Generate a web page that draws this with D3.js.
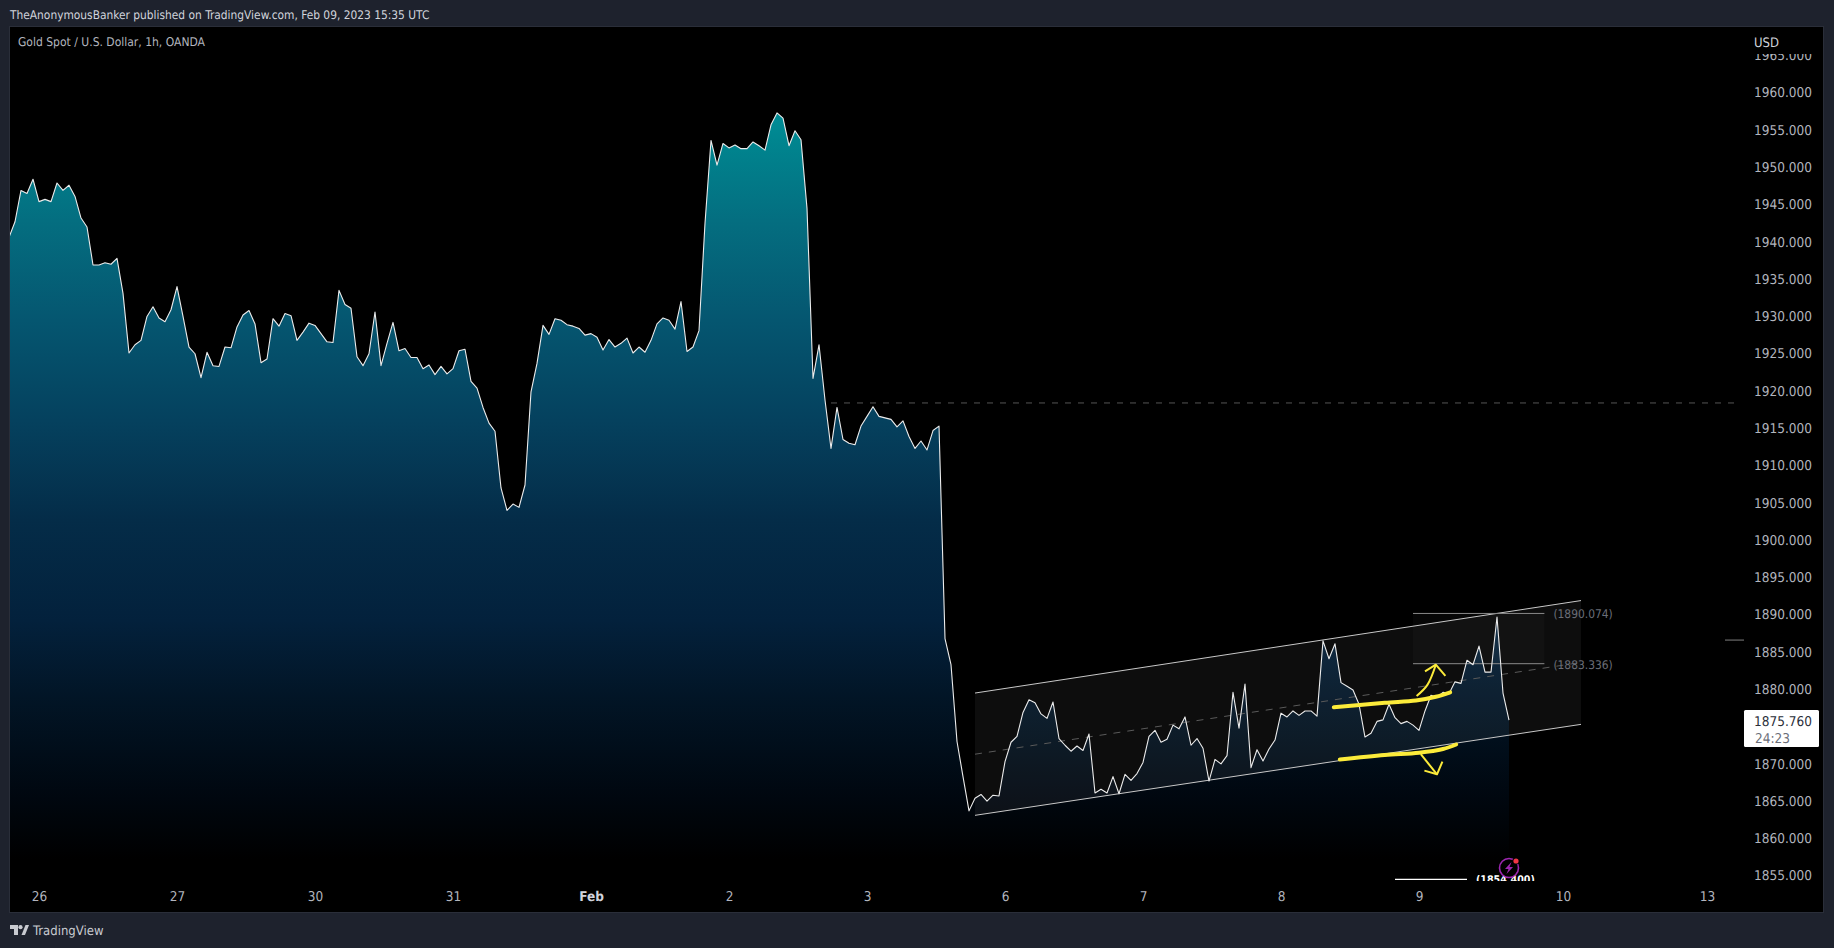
<!DOCTYPE html>
<html><head><meta charset="utf-8">
<script src="https://cdnjs.cloudflare.com/ajax/libs/d3/7.8.5/d3.min.js"></script>
<style>
html,body{margin:0;padding:0;background:#1e222d;overflow:hidden}
svg{display:block}
text{font-family:"DejaVu Sans Condensed","Noto Sans",sans-serif;text-rendering:geometricPrecision}
</style></head><body><svg id="c" width="1834" height="948"></svg>
<script>
const closePrices=[1940.5,1942.6,1946.8,1946.4,1948.3,1945.3,1945.6,1945.3,1947.8,1946.8,1947.5,1946.0,1943.1,1941.9,1936.8,1936.8,1937.1,1936.9,1937.7,1933.0,
1925.0,1926.1,1926.7,1929.9,1931.2,1929.7,1929.2,1930.8,1933.9,1929.9,1925.8,1924.9,1921.7,1925.1,1923.3,1923.2,1925.8,1925.7,1928.5,1930.1,
1930.7,1928.9,1923.7,1924.2,1929.6,1928.6,1930.3,1930.0,1926.7,1927.8,1929.0,1928.7,1927.6,1926.5,1926.4,1933.4,1931.5,1931.0,1924.5,1923.3,
1924.9,1930.5,1923.3,1926.3,1929.1,1925.3,1925.6,1924.4,1924.4,1922.9,1923.4,1922.1,1923.2,1922.2,1922.9,1925.3,1925.5,1921.2,1920.3,1917.7,
1915.6,1914.5,1906.9,1903.9,1904.75,1904.3,1907.3,1919.8,1923.6,1928.7,1927.5,1929.6,1929.4,1928.8,1928.6,1928.3,1927.4,1927.6,1927.1,1925.4,
1926.8,1925.8,1926.3,1927.0,1925.0,1925.8,1925.1,1926.7,1928.9,1929.7,1929.4,1928.2,1931.9,1925.2,1925.8,1928.0,1942.4,1953.5,1950.2,1953.1,
1952.5,1952.9,1952.4,1952.4,1953.3,1952.8,1952.2,1955.6,1957.2,1956.5,1952.8,1954.8,1953.6,1944.4,1921.6,1926.1,1918.7,1912.2,1917.7,1913.4,
1912.9,1912.7,1915.2,1916.5,1917.8,1916.5,1916.3,1916.1,1915.1,1915.9,1913.8,1912.2,1913.2,1912.0,1914.6,1915.2,1886.7,1883.2,1872.9,1868.2,
1863.6,1865.3,1865.8,1864.9,1865.7,1865.6,1870.2,1872.8,1873.6,1876.8,1878.5,1878.1,1876.6,1876.0,1878.2,1873.3,1872.4,1871.6,1872.3,1871.7,
1873.9,1866.0,1866.5,1866.0,1868.2,1865.9,1868.5,1867.7,1868.6,1870.1,1873.6,1874.4,1872.8,1873.2,1875.1,1874.6,1876.2,1872.4,1873.3,1872.0,
1867.6,1870.5,1869.9,1871.0,1879.5,1874.7,1880.6,1869.4,1871.8,1870.3,1871.9,1873.1,1876.7,1876.2,1877.0,1876.4,1877.0,1877.0,1876.3,1886.4,
1884.0,1886.0,1880.8,1880.3,1879.8,1877.9,1873.5,1874.0,1875.6,1875.8,1877.9,1876.1,1875.3,1875.6,1875.1,1874.4,1877.0,1879.1,1878.8,1879.5,
1879.3,1880.9,1880.7,1883.8,1883.2,1885.7,1882.2,1882.2,1889.6,1879.4,1875.76];
const timeTickBars=[5,28,51,74,97,120,143,166,189,212,235,259,283];
const timeTickLabels=["26","27","30","31","Feb","2","3","6","7","8","9","10","13"];
const priceTicks=[1855,1860,1865,1870,1880,1885,1890,1895,1900,1905,1910,1915,1920,1925,1930,1935,1940,1945,1950,1955,1960,1965];
const channelBars=[161,262];
const channelUpper=[1879.4,1891.8];
const channelLower=[1863.0,1875.2];
const fibBars=[234,255.9];
const fibLevels=[1890.074,1883.336];
const brushUpper=[[220.8,1877.5],[229.3,1878.1],[234.5,1878.4],[237.8,1878.9],[240.2,1879.5]];
const brushLower=[[221.8,1870.5],[229.3,1871.1],[235,1871.4],[239,1871.9],[241.2,1872.5]];
const arrowUp=[[234.6,1879.0],[236.4,1880.5],[237.8,1883.2]];
const arrowUpHead=[[236.0,1882.3],[237.8,1883.2],[239.4,1881.7]];
const arrowDown=[[235.3,1871.2],[238,1868.5]];
const arrowDownHead=[[235.9,1869.0],[238,1868.5],[238.9,1870.2]];
const resistanceBars=[137,288.3], resistancePrice=1918.3;
const stubBars=[286,289.2], stubPrice=1886.5;
const lowBars=[231,243], lowPrice=1854.4;

const svg=d3.select("#c");
const x=d3.scaleLinear().domain([0,283]).range([9,1707]);
const y=d3.scaleLinear().domain([1855,1960]).range([875,92]);
const pane={l:10,t:27,r:1823,b:912};
const defs=svg.append("defs");
defs.append("clipPath").attr("id","plot").append("rect").attr("x",pane.l).attr("y",pane.t).attr("width",1734).attr("height",854);
defs.append("clipPath").attr("id","axisclip").append("rect").attr("x",1744).attr("y",54).attr("width",80).attr("height",832);
const g=defs.append("linearGradient").attr("id","area").attr("gradientUnits","userSpaceOnUse").attr("x1",0).attr("x2",0).attr("y1",y(1957.2)).attr("y2",y(1854));
[[0,"#008e97"],[.035,"#00858f"],[.14,"#046e80"],[.27,"#055670"],[.40,"#05415e"],[.53,"#042c48"],[.66,"#03213c"],[.76,"#021526"],[.89,"#00070f"],[.97,"#000000"]].forEach(s=>g.append("stop").attr("offset",s[0]).attr("stop-color",s[1]));

svg.append("rect").attr("width",1834).attr("height",948).attr("fill","#1e222d");
svg.append("rect").attr("x",pane.l-.5).attr("y",pane.t-.5).attr("width",pane.r-pane.l+1).attr("height",pane.b-pane.t+1).attr("fill","#000").attr("stroke","#2a2e39");

const plot=svg.append("g").attr("clip-path","url(#plot)");
const bars=closePrices.map((p,i)=>[i,p]);
plot.append("path").attr("d",d3.area().x(d=>x(d[0])).y0(885).y1(d=>y(d[1]))(bars)).attr("fill","url(#area)");

// channel
const poly=[[channelBars[0],channelUpper[0]],[channelBars[1],channelUpper[1]],[channelBars[1],channelLower[1]],[channelBars[0],channelLower[0]]];
const ln=d3.line().x(d=>x(d[0])).y(d=>y(d[1]));
plot.append("path").attr("d",ln(poly)+"Z").attr("fill","#fff").attr("fill-opacity",.05);
plot.append("path").attr("d",ln(d3.zip(channelBars,channelUpper))).attr("stroke","#c8c8c8").attr("fill","none");
plot.append("path").attr("d",ln(d3.zip(channelBars,channelLower))).attr("stroke","#c8c8c8").attr("fill","none");
plot.append("path").attr("d",ln(channelBars.map((b,i)=>[b,(channelUpper[i]+channelLower[i])/2]))).attr("stroke","#5a5a5a").attr("stroke-dasharray","7 7").attr("fill","none");

// fib
plot.append("rect").attr("x",x(fibBars[0])).attr("width",x(fibBars[1])-x(fibBars[0])).attr("y",y(fibLevels[0])).attr("height",y(fibLevels[1])-y(fibLevels[0])).attr("fill","#fff").attr("fill-opacity",.025);
fibLevels.forEach(l=>{
  plot.append("line").attr("x1",x(fibBars[0])).attr("x2",x(fibBars[1])).attr("y1",y(l)).attr("y2",y(l)).attr("stroke","#8a8a8a");
  plot.append("text").attr("x",x(fibBars[1])+9).attr("y",y(l)+5).attr("fill","#6b6e78").attr("font-size",11.9).text("("+l.toFixed(3)+")");
});

// price line
plot.append("path").attr("d",ln(bars)).attr("fill","none").attr("stroke","#ececec").attr("stroke-width",1.1).attr("stroke-linejoin","round");

// other lines
plot.append("line").attr("x1",x(resistanceBars[0])).attr("x2",x(resistanceBars[1])).attr("y1",y(resistancePrice)).attr("y2",y(resistancePrice)).attr("stroke","#555").attr("stroke-dasharray","6 7");
plot.append("line").attr("x1",x(stubBars[0])).attr("x2",x(stubBars[1])).attr("y1",y(stubPrice)).attr("y2",y(stubPrice)).attr("stroke","#555").attr("stroke-width",1.5);

// annotations
const curve=d3.line().x(d=>x(d[0])).y(d=>y(d[1])).curve(d3.curveCatmullRom);
const yellow="#fceb3a";
[brushUpper,brushLower].forEach(b=>plot.append("path").attr("d",curve(b)).attr("fill","none").attr("stroke",yellow).attr("stroke-width",4).attr("stroke-linecap","round"));
[arrowUp,arrowUpHead,arrowDown,arrowDownHead].forEach((b,i)=>plot.append("path").attr("d",(i%2?ln:curve)(b)).attr("fill","none").attr("stroke",yellow).attr("stroke-width",2).attr("stroke-linejoin","round"));

// session low marker, cut at the pane edge
const lowG=svg.append("g");
lowG.append("line").attr("x1",x(lowBars[0])).attr("x2",x(lowBars[1])).attr("y1",y(lowPrice)).attr("y2",y(lowPrice)).attr("stroke","#fff").attr("stroke-width",1.2);
defs.append("clipPath").attr("id","lowtext").append("rect").attr("x",1470).attr("y",870).attr("width",80).attr("height",11);
lowG.append("text").attr("x",x(lowBars[1])+9).attr("y",y(lowPrice)+4).attr("fill","#fff").attr("font-size",10.6).attr("font-weight","bold").attr("clip-path","url(#lowtext)").text("("+lowPrice.toFixed(3)+")");

// event icon
const ic=svg.append("g").attr("transform",`translate(${x(250)},868)`);
ic.append("circle").attr("r",9.5).attr("fill","#000").attr("stroke","#9c27b0").attr("stroke-width",1.6);
ic.append("path").attr("d","M2.5,-6 L-4,1 L-0.5,1 L-2.5,6 L4,-1 L0.5,-1 Z").attr("fill","#9c27b0");
ic.append("circle").attr("cx",7).attr("cy",-7).attr("r",3.6).attr("fill","#000");
ic.append("circle").attr("cx",7).attr("cy",-7).attr("r",2.6).attr("fill","#f23645");

// axes
const yAxisG=svg.append("g").attr("clip-path","url(#axisclip)").append("g").attr("transform","translate(1812,0)").call(d3.axisLeft(y).tickValues(priceTicks).tickSize(0).tickFormat(d3.format(".3f")));
yAxisG.select(".domain").remove();
yAxisG.selectAll("text").attr("fill","#b2b5be").attr("font-size",13.5).attr("font-family",null).attr("x",0).attr("dy","0.36em");
const xAxisG=svg.append("g").attr("transform","translate(0,896)").call(d3.axisBottom(x).tickValues(timeTickBars).tickSize(0).tickFormat((d,i)=>timeTickLabels[i]));
xAxisG.select(".domain").remove();
xAxisG.selectAll("text").attr("fill","#b2b5be").attr("font-size",13.5).attr("font-family",null).attr("y",0).attr("dy","0.36em")
  .filter((d,i)=>timeTickLabels[i]==="Feb").attr("font-weight","bold").attr("fill","#d1d4dc");

// last price label
svg.append("rect").attr("x",1744).attr("y",710).attr("width",75).attr("height",37).attr("rx",1.5).attr("fill","#fff");
svg.append("text").attr("x",1812).attr("y",726).attr("text-anchor","end").attr("fill","#2a2e39").attr("font-size",13.5).text(closePrices[closePrices.length-1].toFixed(3));
svg.append("text").attr("x",1755).attr("y",743).attr("fill","#6a6d78").attr("font-size",13.5).text("24:23");

// titles
svg.append("text").attr("x",1754).attr("y",47).attr("fill","#d1d4dc").attr("font-size",13).text("USD");
svg.append("text").attr("x",10).attr("y",19).attr("fill","#d1d4dc").attr("font-size",11.85).text("TheAnonymousBanker published on TradingView.com, Feb 09, 2023 15:35 UTC");
svg.append("text").attr("x",18).attr("y",46).attr("fill","#b2b5be").attr("font-size",12).text("Gold Spot / U.S. Dollar, 1h, OANDA");
// brand
const bg=svg.append("g").attr("transform","translate(10,925)").attr("fill","#c8cad0");
bg.append("path").attr("d","M0,0 H8 V10 H4 V4 H0 Z");
bg.append("circle").attr("cx",10.5).attr("cy",2.2).attr("r",2.1);
bg.append("path").attr("d","M11.5,10 L15.5,0 H19 L15,10 Z");
svg.append("text").attr("x",33).attr("y",935).attr("fill","#c8cad0").attr("font-size",13).text("TradingView");
</script></body></html>
